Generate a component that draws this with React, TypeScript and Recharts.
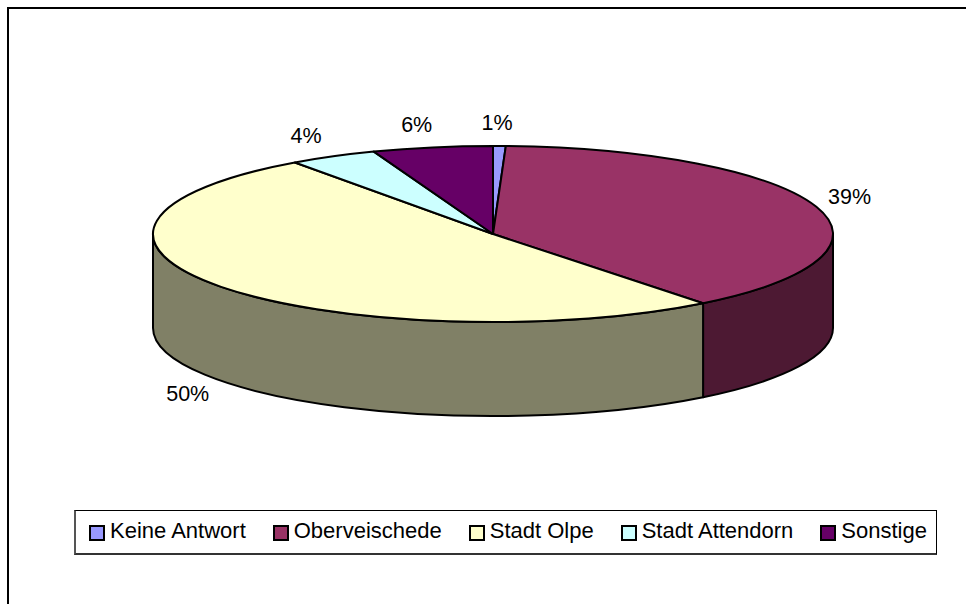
import { PieChart, Pie, Legend } from 'recharts'

const names = ['Keine Antwort', 'Oberveischede', 'Stadt Olpe', 'Stadt Attendorn', 'Sonstige']
const shares = [0.6, 38.8, 50.7, 4.2, 5.7]
const percentLabels = ['1%', '39%', '50%', '4%', '6%']
const topColors = ['#9999ff', '#993366', '#ffffcc', '#ccffff', '#660066']
const wallColors = ['#4d4d80', '#4d1933', '#808066', '#668080', '#330033']

const data = names.map((name, i) => ({ name, value: shares[i], fill: topColors[i], wall: wallColors[i] }))

const FONT = '"Liberation Sans", Arial, sans-serif'
const SQUASH = 88 / 340
const DEPTH = 94
const RAD = Math.PI / 180

const pt = (cx: number, cy: number, r: number, deg: number) => ({
  x: cx + r * Math.cos(deg * RAD),
  y: cy - r * SQUASH * Math.sin(deg * RAD),
})

function TopSlice({ cx, cy, outerRadius: r, startAngle, endAngle, fill }: any) {
  const a = pt(cx, cy, r, startAngle)
  const b = pt(cx, cy, r, endAngle)
  const large = Math.abs(startAngle - endAngle) > 180 ? 1 : 0
  const d = `M${cx},${cy} L${a.x},${a.y} A${r},${r * SQUASH} 0 ${large} 1 ${b.x},${b.y} Z`
  return <path d={d} fill={fill} stroke="#000" strokeWidth={2} strokeLinejoin="round" />
}

// only the front half of the rim shows, angles run 90 -> -270
function WallSlice({ cx, cy, outerRadius: r, startAngle, endAngle, payload }: any) {
  const hi = Math.min(startAngle, 0)
  const lo = Math.max(endAngle, -180)
  if (hi <= lo) return <g />
  const a = pt(cx, cy, r, hi)
  const b = pt(cx, cy, r, lo)
  const ry = r * SQUASH
  const large = hi - lo > 180 ? 1 : 0
  const d =
    `M${a.x},${a.y} A${r},${ry} 0 ${large} 1 ${b.x},${b.y} ` +
    `L${b.x},${b.y + DEPTH} A${r},${ry} 0 ${large} 0 ${a.x},${a.y + DEPTH} Z`
  return <path d={d} fill={payload.wall} stroke="#000" strokeWidth={2} strokeLinejoin="round" />
}

function PercentLabel({ cx, cy, midAngle, index }: any) {
  const cos = Math.cos(midAngle * RAD)
  const sin = Math.sin(midAngle * RAD)
  // upper left labels sit a bit further out, right one a bit higher
  const x = cx - 3 + 378 * cos + (cos < 0 && sin > 0 ? -6 : 0)
  const y = cy + 1 - 112 * sin + (sin < 0 ? DEPTH - 2 : 0) + (cos > 0.5 ? -3 : 0)
  return (
    <text x={x} y={y} textAnchor="middle" dominantBaseline="central" fontFamily={FONT} fontSize={21.5} fill="#000">
      {percentLabels[index]}
    </text>
  )
}

function LegendBox({ payload }: any) {
  // both Pies feed the legend, keep one entry per slice
  const items = (payload || []).filter(
    (item: any, i: number, all: any[]) => all.findIndex((o) => o.value === item.value) === i,
  )
  return (
    <div
      style={{
        boxSizing: 'border-box',
        width: 863,
        height: 45,
        border: '1px solid #000',
        borderLeft: '2px solid #555',
        borderBottom: '2px solid #333',
        background: '#fff',
        display: 'flex',
        alignItems: 'center',
        justifyContent: 'space-between',
        paddingLeft: 13,
        paddingRight: 9,
        paddingBottom: 3,
        fontFamily: FONT,
        fontSize: 22,
        color: '#000',
      }}
    >
      {items.map((item: any) => (
        <div key={item.value} style={{ display: 'flex', alignItems: 'center' }}>
          <span
            style={{
              boxSizing: 'border-box',
              display: 'inline-block',
              width: 16,
              height: 16,
              marginTop: 5,
              marginRight: 5,
              background: item.color,
              border: '2px solid #000',
            }}
          />
          <span style={{ whiteSpace: 'nowrap' }}>{item.value}</span>
        </div>
      ))}
    </div>
  )
}

export default function App() {
  return (
    <div style={{ position: 'absolute', left: 0, top: 0, width: 966, height: 604, background: '#fff', overflow: 'hidden' }}>
      <div style={{ position: 'absolute', left: 7, top: 7, width: 970, height: 610, border: '2px solid #000' }} />
      <PieChart width={966} height={604} margin={{ top: 0, right: 0, bottom: 0, left: 0 }} style={{ position: 'absolute', left: 0, top: 0 }}>
        <Pie
          data={data}
          dataKey="value"
          nameKey="name"
          cx={493}
          cy={234}
          outerRadius={340}
          startAngle={90}
          endAngle={-270}
          legendType="none"
          shape={WallSlice}
          isAnimationActive={false}
        />
        <Pie
          data={data}
          dataKey="value"
          nameKey="name"
          cx={493}
          cy={234}
          outerRadius={340}
          startAngle={90}
          endAngle={-270}
          shape={TopSlice}
          label={PercentLabel}
          labelLine={false}
          isAnimationActive={false}
        />
        <Legend
          content={LegendBox}
          itemSorter={null}
          wrapperStyle={{ left: 74, top: 510, bottom: 'auto', width: 863, height: 45 }}
        />
      </PieChart>
    </div>
  )
}
